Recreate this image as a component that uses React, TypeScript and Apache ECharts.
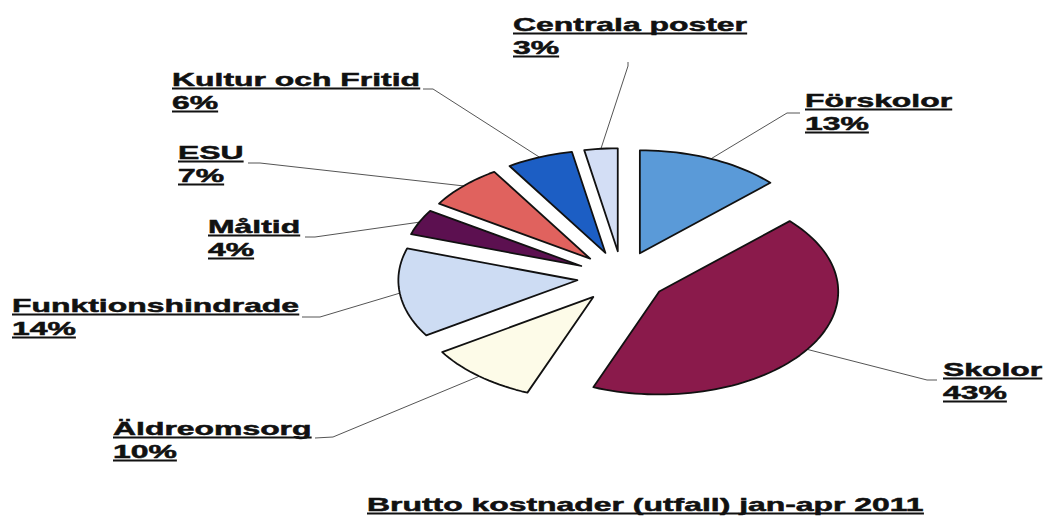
import React, { useEffect, useRef } from "react";
import * as echarts from "echarts";

// ---- data ----
const categories = [
  "Förskolor",
  "Skolor",
  "Äldreomsorg",
  "Funktionshindrade",
  "Måltid",
  "ESU",
  "Kultur och Fritid",
  "Centrala poster",
];
const shares = [13, 43, 10, 14, 4, 7, 6, 3];
const titleText = "Brutto kostnader (utfall) jan-apr 2011";

// ---- styles / layout ----
const sliceColors = [
  "#5a9ad8",
  "#8a1a4b",
  "#fdfbe8",
  "#cddcf3",
  "#5c1050",
  "#e0625e",
  "#1c5ec4",
  "#d3def5",
];
// label left x, first-line baseline y
const labelPos: number[][] = [
  [805, 107],
  [943, 376],
  [113, 435],
  [12, 312],
  [208, 233],
  [178, 159],
  [172, 86],
  [513, 31],
];
// leader bend point and end point
const leaderPts: number[][] = [
  [787, 113, 800, 113],
  [927, 380, 937, 380],
  [333, 437, 315, 438],
  [320, 317, 302, 317],
  [315, 237, 305, 237],
  [260, 163, 248, 163],
  [433, 89, 423, 89],
  [628, 66, 628, 62],
];

const CX = 622;
const CY = 277;
const R = 179;
const SY = 0.575;
const EXPLODE = 45;
const FONT_SIZE = 19;
const FONT_FAMILY = '"Liberation Sans", Arial, sans-serif';
const FONT = `bold ${FONT_SIZE}px ${FONT_FAMILY}`;
const SX = 1.68;
const LINE_GAP = 23;
const CENTRAL_SHIFT = 6.6;

function measure(t: string): number {
  const c = document.createElement("canvas").getContext("2d");
  if (!c) return t.length * 10 * SX;
  c.font = FONT;
  return c.measureText(t).width * SX;
}

function textEl(t: string, x: number, baseline: number) {
  return {
    type: "text",
    x,
    y: baseline - CENTRAL_SHIFT,
    scaleX: SX,
    style: {
      text: t,
      x: 0,
      y: 0,
      fill: "#111",
      stroke: "#111",
      lineWidth: 0.5,
      fontSize: FONT_SIZE,
      fontWeight: "bold",
      fontFamily: FONT_FAMILY,
      verticalAlign: "middle",
      textVerticalAlign: "middle",
      align: "left",
      textAlign: "left",
    },
  };
}

function underline(t: string, x: number, baseline: number) {
  const w = measure(t);
  return {
    type: "line",
    shape: { x1: x, y1: baseline + 2.5, x2: x + w, y2: baseline + 2.5 },
    style: { stroke: "#111", lineWidth: 1.8 },
  };
}

export default function App() {
  const ref = useRef<HTMLDivElement>(null);
  useEffect(() => {
    if (!ref.current) return;
    const chart = echarts.init(ref.current, undefined, { renderer: "svg" });
    const total = shares.reduce((a, b) => a + b, 0);
    const starts: number[] = [];
    let cum = 0;
    shares.forEach((v) => {
      starts.push(cum);
      cum += v;
    });
    const deg = Math.PI / 180;

    const renderItem = (params: any) => {
      const i = params.dataIndex;
      const a0 = (starts[i] / total) * 360;
      const a1 = ((starts[i] + shares[i]) / total) * 360;
      const m = (a0 + a1) / 2;
      const ox = CX + EXPLODE * Math.sin(m * deg);
      const oy = CY - EXPLODE * Math.cos(m * deg) * SY;
      const pts: number[][] = [[ox, oy]];
      const steps = Math.max(4, Math.ceil((a1 - a0) / 2));
      for (let k = 0; k <= steps; k++) {
        const a = (a0 + ((a1 - a0) * k) / steps) * deg;
        pts.push([ox + R * Math.sin(a), oy - R * Math.cos(a) * SY]);
      }
      const sx = ox + R * Math.sin(m * deg);
      const sy = oy - R * Math.cos(m * deg) * SY;
      const lp = leaderPts[i];
      const [lx, ly] = labelPos[i];
      const name = categories[i];
      const pct = `${Math.round((shares[i] / total) * 100)}%`;
      return {
        type: "group",
        children: [
          {
            type: "polyline",
            shape: { points: [[sx, sy], [lp[0], lp[1]], [lp[2], lp[3]]] },
            style: { stroke: "#555", lineWidth: 1, fill: "none" },
          },
          {
            type: "polygon",
            shape: { points: pts },
            style: {
              fill: sliceColors[i],
              stroke: "#111",
              lineWidth: 1.8,
              lineJoin: "round",
            },
          },
          textEl(name, lx, ly),
          underline(name, lx, ly),
          textEl(pct, lx, ly + LINE_GAP),
          underline(pct, lx, ly + LINE_GAP),
        ],
      };
    };

    const titleX = 367;
    const titleBase = 511;
    chart.setOption({
      animation: false,
      backgroundColor: "#ffffff",
      graphic: [
        {
          type: "text",
          x: titleX,
          y: titleBase - CENTRAL_SHIFT,
          scaleX: SX,
          style: {
            text: titleText,
            x: 0,
            y: 0,
            fill: "#111",
            stroke: "#111",
            lineWidth: 0.5,
            font: FONT,
            verticalAlign: "middle",
            textVerticalAlign: "middle",
          },
        },
        {
          type: "line",
          shape: {
            x1: titleX,
            y1: titleBase + 2.5,
            x2: titleX + measure(titleText),
            y2: titleBase + 2.5,
          },
          style: { stroke: "#111", lineWidth: 1.8 },
        },
      ],
      series: [
        {
          type: "custom",
          coordinateSystem: "none",
          renderItem,
          data: shares.map((v, i) => ({ value: v, name: categories[i] })),
        },
      ],
    });
    return () => chart.dispose();
  }, []);
  return (
    <div
      ref={ref}
      style={{
        position: "absolute",
        left: 0,
        top: 0,
        width: 1043,
        height: 518,
        background: "#fff",
      }}
    />
  );
}
